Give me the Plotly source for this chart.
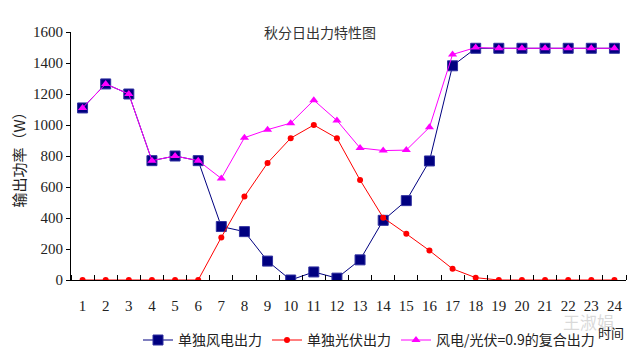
import plotly.graph_objects as go

hours = list(range(1, 25))
wind = [1110, 1265, 1200, 770, 800, 770, 345, 312, 122, 0, 52, 12, 130, 385, 512, 768, 1382, 1495,
        1495, 1495, 1495, 1495, 1495, 1495]
pv = [0, 0, 0, 0, 0, 0, 275, 538, 755, 915, 1000, 915, 645, 402, 298, 190, 72, 15,
      0, 0, 0, 0, 0, 0]
combo = [1110, 1265, 1200, 770, 800, 770, 655, 918, 970, 1012, 1160, 1029, 852, 835, 838, 985, 1455, 1500,
         1495, 1495, 1495, 1495, 1495, 1495]
names = ["单独风电出力", "单独光伏出力", "风电/光伏=0.9的复合出力"]

cjk = "Noto Sans CJK SC"
serif = "Liberation Serif"

# page body has an 8px default margin; figure is sized to fill the rest of the window
PL, PT, PR, PB = 71, 32, 626, 280.5   # plot box in page pixels
W, H = 632, 348
OFF = 8


def px(xp):
    return (xp - PL) / (PR - PL)


def py(yp):
    return (PB - yp) / (PB - PT)


fig = go.Figure()
fig.add_trace(go.Scatter(x=hours, y=wind, name=names[0], mode="lines+markers",
                         line=dict(color="#000080", width=1),
                         marker=dict(symbol="square", size=10, color="#000080",
                                     line=dict(color="#3030a0", width=1))))
fig.add_trace(go.Scatter(x=hours, y=pv, name=names[1], mode="lines+markers",
                         line=dict(color="#ff0000", width=1),
                         marker=dict(symbol="circle", size=6, color="#ff0000")))
fig.add_trace(go.Scatter(x=hours, y=combo, name=names[2], mode="lines+markers",
                         line=dict(color="#ff00ff", width=1),
                         marker=dict(symbol="triangle-up", size=8, color="#ff00ff")))

fig.update_layout(
    width=W, height=H,
    margin=dict(l=PL - OFF, r=W - (PR - OFF), t=PT - OFF, b=H - (PB - OFF), autoexpand=False),
    paper_bgcolor="white", plot_bgcolor="white",
    showlegend=True,
    legend=dict(orientation="h", x=px(138), y=py(325), xanchor="left", yanchor="top",
                font=dict(family=cjk, size=14, color="#222"),
                itemwidth=30, tracegroupgap=0, bgcolor="rgba(0,0,0,0)"),
    annotations=[
        dict(text="秋分日出力特性图", xref="paper", yref="paper", x=px(320), y=py(32),
             xanchor="center", yanchor="middle", showarrow=False,
             font=dict(family=cjk, size=14, color="#333")),
        dict(text="王淑娟", xref="paper", yref="paper", x=px(588), y=py(322),
             xanchor="center", yanchor="middle", showarrow=False,
             font=dict(family=cjk, size=17, color="rgba(185,185,185,0.55)")),
        dict(text="时间", xref="paper", yref="paper", x=px(611), y=py(333),
             xanchor="center", yanchor="middle", showarrow=False,
             font=dict(family=cjk, size=13, color="#222")),
    ],
)
fig.update_xaxes(range=[0.5, 24.5], tickvals=hours, ticktext=[str(h) for h in hours],
                 ticks="", showline=True, linecolor="black", linewidth=1, automargin=False,
                 showgrid=False, zeroline=False, ticklabelstandoff=12,
                 tickfont=dict(family=serif, size=15, color="#222"),
                 minor=dict(tick0=0.5, dtick=1, ticks="inside", ticklen=5, tickcolor="black"))
fig.update_yaxes(range=[0, 1600], dtick=200, ticks="outside", ticklen=4, tickcolor="black",
                 showline=True, linecolor="black", linewidth=1, showgrid=False, zeroline=False,
                 automargin=False,
                 tickfont=dict(family=serif, size=15, color="#222"),
                 title=dict(text="输出功率（W）", font=dict(family=cjk, size=15, color="#222"), standoff=6))

fig.write_html("out.html")
